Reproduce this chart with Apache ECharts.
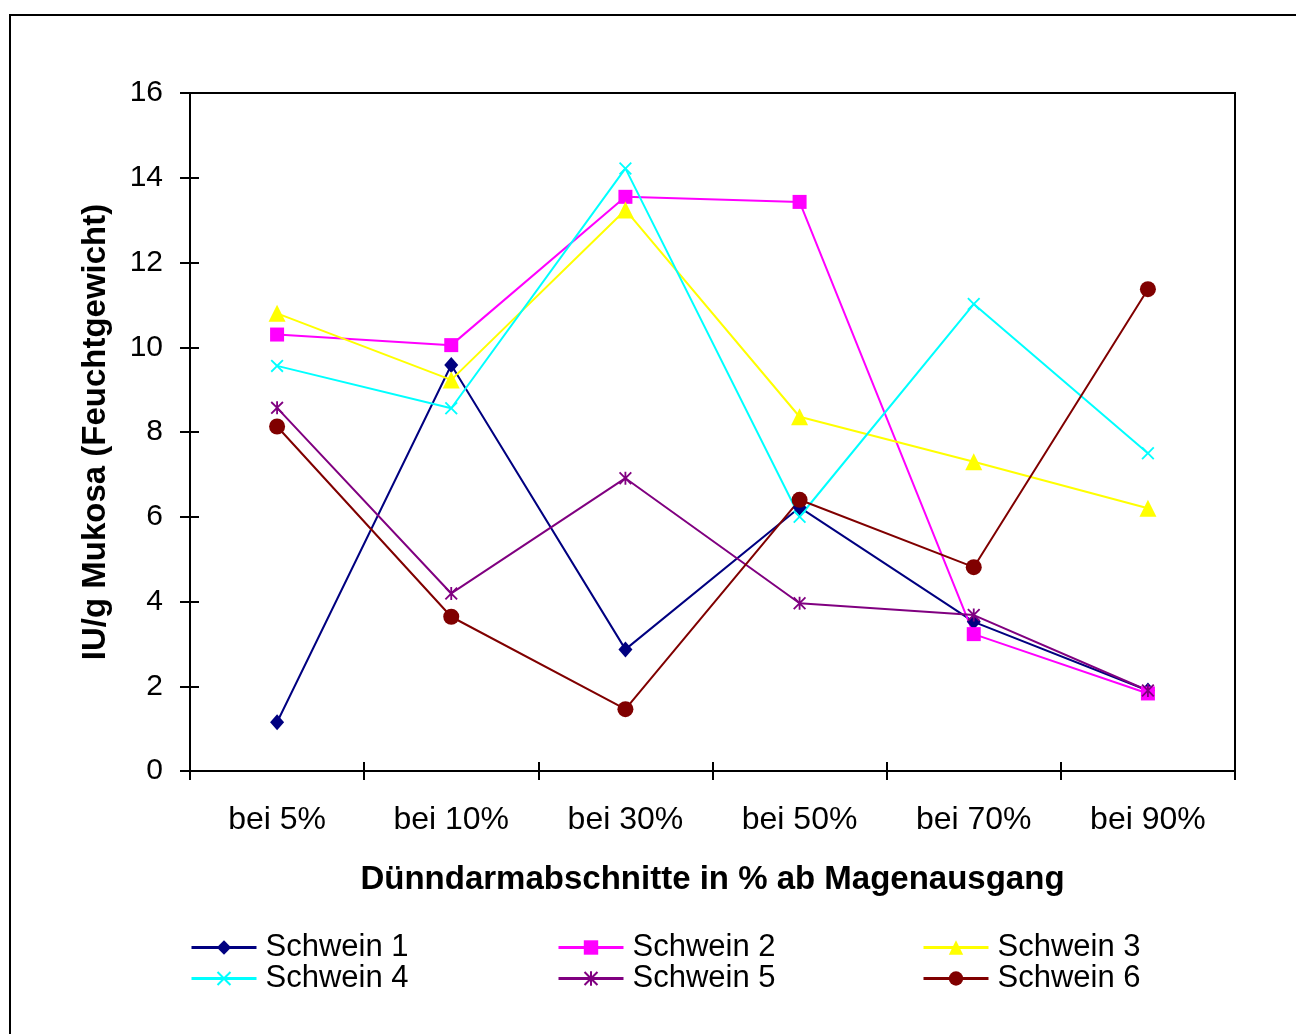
<!DOCTYPE html>
<html>
<head>
<meta charset="utf-8">
<script src="https://cdn.jsdelivr.net/npm/echarts@6/dist/echarts.min.js"></script>
<style>
  html, body { margin: 0; padding: 0; background: #fff; }
  #chart { width: 1296px; height: 1034px; }
</style>
</head>
<body>
<div id="chart"></div>
<script>
// Dünndarm-Abschnitte (Position ab Magenausgang)
const categories = ['bei 5%', 'bei 10%', 'bei 30%', 'bei 50%', 'bei 70%', 'bei 90%'];

// IU/g Mukosa je Tier
const schwein1 = [1.15, 9.58, 2.87, 6.22, 3.52, 1.90];
const schwein2 = [10.30, 10.05, 13.55, 13.43, 3.23, 1.83];
const schwein3 = [10.80, 9.23, 13.24, 8.36, 7.30, 6.20];
const schwein4 = [9.56, 8.56, 14.22, 6.00, 11.02, 7.50];
const schwein5 = [8.57, 4.19, 6.91, 3.96, 3.68, 1.90];
const schwein6 = [8.13, 3.64, 1.46, 6.40, 4.81, 11.37];

const seriesNames = ['Schwein 1', 'Schwein 2', 'Schwein 3', 'Schwein 4', 'Schwein 5', 'Schwein 6'];
const yTicks = { min: 0, max: 16, interval: 2 };

const FONT = '"Liberation Sans", Arial, sans-serif';

// marker shapes
const crossPath = 'path://M0,1 L1,0 L5,4 L9,0 L10,1 L6,5 L10,9 L9,10 L5,6 L1,10 L0,9 L4,5 Z';
const starPath = 'path://M0,1 L1,0 L5,4 L9,0 L10,1 L6,5 L10,9 L9,10 L5,6 L1,10 L0,9 L4,5 Z M4.3,0 L5.7,0 L5.7,10 L4.3,10 Z';

const styles = [
  { color: '#000080', symbol: 'diamond', size: [14, 16] },
  { color: '#FF00FF', symbol: 'rect', size: 14 },
  { color: '#FFFF00', symbol: 'triangle', size: 17 },
  { color: '#00FFFF', symbol: crossPath, size: 13 },
  { color: '#800080', symbol: starPath, size: 13 },
  { color: '#800000', symbol: 'circle', size: 16 }
];
const values = [schwein1, schwein2, schwein3, schwein4, schwein5, schwein6];

const series = seriesNames.map((name, i) => ({
  name: name,
  type: 'line',
  data: values[i],
  xAxisIndex: 0,
  yAxisIndex: 0,
  symbol: styles[i].symbol,
  symbolSize: styles[i].size,
  showAllSymbol: true,
  itemStyle: { color: styles[i].color, borderWidth: 0 },
  lineStyle: { color: styles[i].color, width: 2 },
  animation: false
}));

// legend: three columns, two rows
const colX = [190, 557, 922];
const rowY = [932, 963];
const legends = seriesNames.map((name, i) => ({
  data: [name],
  left: colX[i % 3],
  top: rowY[Math.floor(i / 3)],
  orient: 'horizontal',
  itemWidth: 65,
  itemHeight: 18,
  itemGap: 0,
  padding: 0,
  selectedMode: false,
  lineStyle: { width: 3 },
  textStyle: { fontFamily: FONT, fontSize: 31, color: '#000', padding: [0, 0, 0, 4] }
}));

const chart = echarts.init(document.getElementById('chart'), null, { renderer: 'canvas' });
chart.setOption({
  backgroundColor: '#fff',
  animation: false,
  graphic: [{
    type: 'rect',
    shape: { x: 10, y: 15, width: 1400, height: 1100 },
    style: { fill: 'none', stroke: '#000', lineWidth: 2 },
    z: -1
  }],
  grid: {
    left: 190, top: 93, right: 61, bottom: 263,
    show: true, borderColor: '#000', borderWidth: 2, backgroundColor: 'transparent'
  },
  legend: legends,
  xAxis: [{
    type: 'category',
    data: categories,
    boundaryGap: true,
    position: 'bottom',
    axisLine: { lineStyle: { color: '#000', width: 2 } },
    axisTick: { show: true, length: 9, lineStyle: { color: '#000', width: 2 } },
    axisLabel: { fontFamily: FONT, fontSize: 32, color: '#000', margin: 33 },
    name: 'Dünndarmabschnitte in % ab Magenausgang',
    nameLocation: 'middle',
    nameGap: 92,
    nameTextStyle: { fontFamily: FONT, fontSize: 33, fontWeight: 'bold', color: '#000' }
  }, {
    type: 'category',
    data: categories,
    boundaryGap: true,
    position: 'bottom',
    offset: 0,
    axisLine: { show: false },
    axisTick: { show: true, inside: true, length: 9, lineStyle: { color: '#000', width: 2 } },
    axisLabel: { show: false }
  }],
  yAxis: [{
    type: 'value',
    min: yTicks.min, max: yTicks.max, interval: yTicks.interval,
    position: 'left',
    offset: 0,
    axisLine: { show: true, lineStyle: { color: '#000', width: 2 } },
    axisTick: { show: true, length: 10, lineStyle: { color: '#000', width: 2 } },
    splitLine: { show: false },
    axisLabel: { fontFamily: FONT, fontSize: 30, color: '#000', margin: 27 },
    name: 'IU/g Mukosa (Feuchtgewicht)',
    nameLocation: 'middle',
    nameGap: 78,
    nameRotate: 90,
    nameTextStyle: { fontFamily: FONT, fontSize: 33, fontWeight: 'bold', color: '#000' }
  }, {
    type: 'value',
    min: yTicks.min, max: yTicks.max, interval: yTicks.interval,
    position: 'left',
    offset: 0,
    axisLine: { show: false },
    axisTick: { show: true, inside: true, length: 9, lineStyle: { color: '#000', width: 2 } },
    splitLine: { show: false },
    axisLabel: { show: false }
  }],
  series: series
});
</script>
</body>
</html>
